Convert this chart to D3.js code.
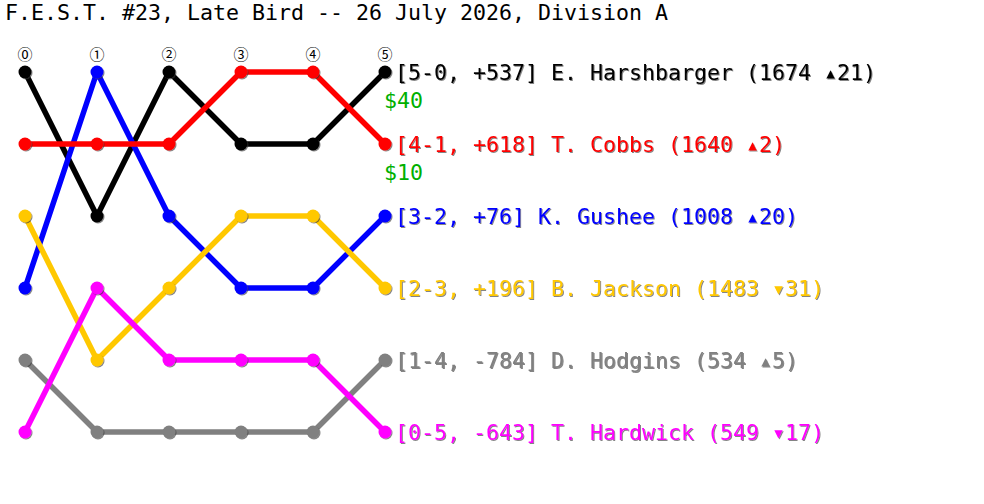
<!DOCTYPE html>
<html>
<head>
<meta charset="utf-8">
<script src="https://cdn.jsdelivr.net/npm/d3@7"></script>
<style>
  body { margin: 0; background: #fff; }
  text { font-family: "DejaVu Sans Mono", monospace; }
</style>
</head>
<body>
<script>
// rounds and their circled labels
var rounds = [0, 1, 2, 3, 4, 5];
var roundLabels = ["⓪", "①", "②", "③", "④", "⑤"];

// players, in drawing order (last one is on top)
var players = ["E. Harshbarger", "K. Gushee", "B. Jackson", "D. Hodgins", "T. Hardwick", "T. Cobbs"];
var colors = ["#000000", "#0000ff", "#ffc800", "#808080", "#ff00ff", "#ff0000"];
// standing after each round
var ranks = [
  [1, 3, 1, 2, 2, 1],
  [4, 1, 3, 4, 4, 3],
  [3, 5, 4, 3, 3, 4],
  [5, 6, 6, 6, 6, 5],
  [6, 4, 5, 5, 5, 6],
  [2, 2, 2, 1, 1, 2]
];
var records = ["5-0", "3-2", "2-3", "1-4", "0-5", "4-1"];
var spreads = ["+537", "+76", "+196", "-784", "-643", "+618"];
var ratings = [1674, 1008, 1483, 534, 549, 1640];
var ratingChange = [21, 20, -31, 5, -17, 2];
var prizes = ["$40", "", "", "", "", "$10"];

var svgWidth = 984, svgHeight = 504;
var svg = d3.select("body").append("svg").attr("width", svgWidth).attr("height", svgHeight);

// small drop shadow used on dots and labels
var defs = svg.append("defs");
var f = defs.append("filter").attr("id", "shadow")
  .attr("x", "-20%").attr("y", "-20%").attr("width", "140%").attr("height", "140%");
f.append("feDropShadow").attr("dx", 1).attr("dy", 1).attr("stdDeviation", 0.4)
  .attr("flood-color", "#333").attr("flood-opacity", 0.6);

var xScale = d3.scalePoint().domain(rounds).range([25, 385]);
var yScale = d3.scaleLinear().domain([1, 6]).range([72, 432]);

// title
svg.append("text").attr("x", 5).attr("y", 20)
  .style("font-size", "21.6px").attr("fill", "#000")
  .text("F.E.S.T. #23, Late Bird -- 26 July 2026, Division A");

// round markers
svg.selectAll(".round").data(rounds).enter().append("text")
  .attr("class", "round")
  .attr("x", d => xScale(d))
  .attr("y", 60)
  .attr("text-anchor", "middle")
  .style("font-family", "'Noto Sans CJK JP', sans-serif")
  .style("font-size", "15px")
  .text((d, i) => roundLabels[i]);

var line = d3.line().x((d, i) => xScale(rounds[i])).y(d => yScale(d));

players.forEach(function(p, i) {
  var g = svg.append("g");
  g.append("path")
    .attr("d", line(ranks[i]))
    .attr("fill", "none")
    .attr("stroke", colors[i])
    .attr("stroke-width", 5.5)
    .attr("stroke-linejoin", "round");
  g.selectAll("circle").data(ranks[i]).enter().append("circle")
    .attr("cx", (d, j) => xScale(rounds[j]))
    .attr("cy", d => yScale(d))
    .attr("r", 6.5)
    .attr("fill", colors[i])
    .attr("filter", "url(#shadow)");
});

// labels at the final standing
var last = rounds.length - 1;
players.forEach(function(p, i) {
  var y = yScale(ranks[i][last]);
  var ch = ratingChange[i];
  var arrow = ch >= 0 ? "▴" : "▾";
  svg.append("text")
    .attr("x", xScale(rounds[last]) + 10)
    .attr("y", y + 8)
    .style("font-size", "21.6px")
    .attr("fill", colors[i])
    .attr("filter", "url(#shadow)")
    .text("[" + records[i] + ", " + spreads[i] + "] " + p + " (" + ratings[i] + " " + arrow + Math.abs(ch) + ")");
  if (prizes[i]) {
    svg.append("text")
      .attr("x", xScale(rounds[last]) - 1)
      .attr("y", y + 36)
      .style("font-size", "21.6px")
      .attr("fill", "#00b000")
      .text(prizes[i]);
  }
});
</script>
</body>
</html>
